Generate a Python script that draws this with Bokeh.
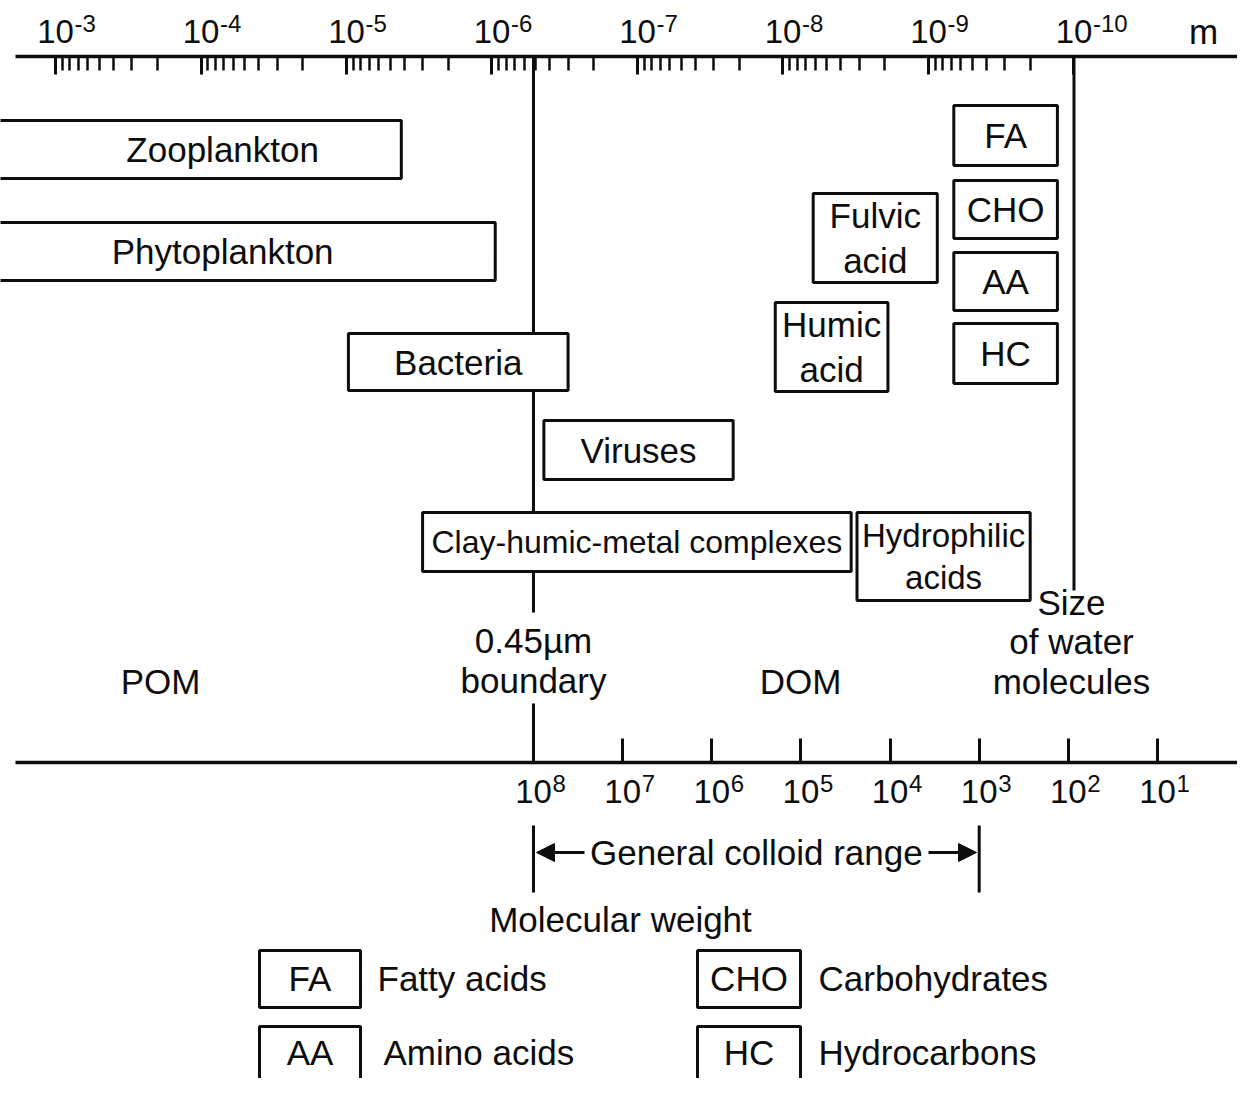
import math
from bokeh.plotting import figure
from bokeh.models import (Range1d, LogScale, LinearScale, LogAxis, FixedTicker,
                          Arrow, NormalHead)
from bokeh.core.properties import value
from bokeh.embed import file_html
from bokeh.resources import INLINE

# ---------------- data ----------------
size_ticks = [1e-3, 1e-4, 1e-5, 1e-6, 1e-7, 1e-8, 1e-9, 1e-10]          # metres
mw_ticks = [1e8, 1e7, 1e6, 1e5, 1e4, 1e3, 1e2, 1e1]                    # molecular weight

box_labels = ["Zooplankton", "Phytoplankton", "Bacteria", "Viruses",
              "Clay-humic-metal complexes", "Hydrophilic\nacids",
              "Fulvic\nacid", "Humic\nacid", "FA", "CHO", "AA", "HC"]
box_size_max = [2e-2, 2e-2, 9.7e-6, 4.4e-7, 3.0e-6, 3.1e-9, 6.2e-9, 1.13e-8,
                6.7e-10, 6.7e-10, 6.7e-10, 6.7e-10]                        # left edge (m)
box_size_min = [4.2e-6, 9.5e-7, 3e-7, 2.2e-8, 3.4e-9, 2e-10, 8.7e-10, 1.9e-9,
                1.3e-10, 1.3e-10, 1.3e-10, 1.3e-10]                        # right edge (m)
box_label_size = [7.1e-5, 7.1e-5, None, None, None, None, None, None, None, None, None, None]

boundary_mw = 1e8          # 0.45 um boundary
water_size = 1e-10         # size of water molecules (m)
colloid_mw = (1e8, 1e3)    # general colloid range

legend_abbr = ["FA", "AA", "CHO", "HC"]
legend_text = ["Fatty acids", "Amino acids", "Carbohydrates", "Hydrocarbons"]

# ---------------- layout ----------------
FONT = value("Liberation Sans")
FS = "35px"
INK = "#0d0d0d"

box_top = [120, 222, 333, 420, 512, 512, 193, 302, 105, 180, 252, 323]
box_bot = [178, 280, 390, 479, 571, 600, 282, 391, 165, 238, 310, 383]
box_fs = ["35px", "35px", "35px", "35px", "32px", "33px", "35px", "35px",
          "35px", "35px", "35px", "35px"]

AX_TOP_Y = 56
AX_MW_Y = 762

p = figure(width=1237, height=1078, x_axis_type="log", x_axis_location="above",
           y_axis_type=None,
           x_range=Range1d(2.388e-3, 7.52e-12), y_range=Range1d(1078, 0),
           output_backend="svg", toolbar_location=None, min_border=0)
p.outline_line_color = None
p.background_fill_color = "white"
p.border_fill_color = "white"
p.xgrid.visible = False

p.extra_x_ranges = {"mw": Range1d(9.53e13, 1.266), "px": Range1d(0, 1237)}
p.extra_x_scales = {"mw": LogScale(), "px": LinearScale()}

# top size axis (labels drawn separately as 10 + superscript)
minor = [k * 10.0 ** n for n in range(-10, -3) for k in range(2, 10)]
ax = p.xaxis[0]
ax.fixed_location = AX_TOP_Y
ax.bounds = (7.5e-12, 1.88e-3)
ax.ticker = FixedTicker(ticks=size_ticks, minor_ticks=minor)
ax.axis_line_width = 3.5
ax.axis_line_color = INK
ax.major_tick_in = 18
ax.major_tick_out = 0
ax.minor_tick_in = 14
ax.minor_tick_out = 0
ax.major_tick_line_width = 3
ax.minor_tick_line_width = 2.5
ax.major_tick_line_color = INK
ax.minor_tick_line_color = INK
ax.major_label_text_color = None

# bottom molecular-weight axis
mw_axis = LogAxis(x_range_name="mw", ticker=FixedTicker(ticks=mw_ticks, minor_ticks=[]),
                  fixed_location=AX_MW_Y, bounds=(1.266, 6.46e13))
mw_axis.axis_line_width = 3.5
mw_axis.axis_line_color = INK
mw_axis.major_tick_in = 24
mw_axis.major_tick_out = 0
mw_axis.major_tick_line_width = 3
mw_axis.major_tick_line_color = INK
mw_axis.major_label_text_color = None
p.add_layout(mw_axis, "below")

# tick labels: "10" centred on the tick, exponent as superscript
def exps(ticks):
    return [str(int(round(math.log10(t)))) for t in ticks]

p.text(x=size_ticks, y=[31] * len(size_ticks), text=["10"] * len(size_ticks),
       text_font=FONT, text_font_size="33px", text_align="center",
       text_baseline="middle", text_color=INK)
p.text(x=size_ticks, y=[23] * len(size_ticks), text=exps(size_ticks), x_offset=19,
       text_font=FONT, text_font_size="24px", text_align="left",
       text_baseline="middle", text_color=INK)
p.text(x=mw_ticks, y=[791] * len(mw_ticks), text=["10"] * len(mw_ticks), x_range_name="mw",
       text_font=FONT, text_font_size="33px", text_align="center",
       text_baseline="middle", text_color=INK)
p.text(x=mw_ticks, y=[783] * len(mw_ticks), text=exps(mw_ticks), x_range_name="mw",
       x_offset=19, text_font=FONT, text_font_size="24px", text_align="left",
       text_baseline="middle", text_color=INK)

# vertical reference lines (drawn first, boxes cover them)
p.segment(x0=[boundary_mw, boundary_mw], x1=[boundary_mw, boundary_mw],
          y0=[AX_TOP_Y, 703], y1=[612, AX_MW_Y], x_range_name="mw",
          line_color=INK, line_width=3)
p.segment(x0=[water_size], x1=[water_size], y0=[AX_TOP_Y], y1=[590],
          line_color=INK, line_width=3)

# boxes
p.quad(left=box_size_max, right=box_size_min, top=box_top, bottom=box_bot,
       fill_color="white", line_color=INK, line_width=3)

lx = [lab if lab is not None else math.sqrt(a * b)
      for lab, a, b in zip(box_label_size, box_size_max, box_size_min)]
ly = [(t + b) / 2 for t, b in zip(box_top, box_bot)]
p.text(x=lx, y=ly, text=box_labels, text_font=FONT, text_font_size=box_fs,
       text_align="center", text_baseline="middle", text_color=INK,
       text_line_height=1.15)

# free labels
p.text(x=[160, 533, 533, 800, 1071, 1071, 1071, 1203],
       y=[681, 640, 680, 681, 602, 641, 681, 31],
       text=["POM", "0.45µm", "boundary", "DOM", "Size", "of water", "molecules", "m"],
       x_range_name="px", text_font=FONT, text_font_size=FS, text_align="center",
       text_baseline="middle", text_color=INK)

# general colloid range
p.segment(x0=list(colloid_mw), x1=list(colloid_mw), y0=[825, 825], y1=[892, 892],
          x_range_name="mw", line_color=INK, line_width=3)
p.text(x=[math.sqrt(colloid_mw[0] * colloid_mw[1])], y=[852], text=["General colloid range"],
       x_range_name="mw", text_font=FONT, text_font_size=FS, text_align="center",
       text_baseline="middle", text_color=INK)
p.add_layout(Arrow(end=NormalHead(size=18, fill_color=INK, line_color=INK),
                   x_start=584, y_start=852, x_end=536, y_end=852, x_range_name="px",
                   line_color=INK, line_width=3))
p.add_layout(Arrow(end=NormalHead(size=18, fill_color=INK, line_color=INK),
                   x_start=928, y_start=852, x_end=976, y_end=852, x_range_name="px",
                   line_color=INK, line_width=3))
p.text(x=[620], y=[919], text=["Molecular weight"], x_range_name="px",
       text_font=FONT, text_font_size=FS, text_align="center", text_baseline="middle",
       text_color=INK)

# key
kx0 = [259, 259, 697, 697]
kx1 = [360, 360, 800, 800]
ky0 = [950, 1026, 950, 1026]
ky1 = [1007, 1090, 1007, 1090]
key_y = [978, 1052, 978, 1052]
p.quad(left=kx0, right=kx1, top=ky0, bottom=ky1, x_range_name="px",
       fill_color="white", line_color=INK, line_width=3)
p.text(x=[(a + b) / 2 for a, b in zip(kx0, kx1)], y=key_y,
       text=legend_abbr, x_range_name="px", text_font=FONT, text_font_size=FS,
       text_align="center", text_baseline="middle", text_color=INK)
p.text(x=[377, 383, 818, 818], y=key_y, text=legend_text,
       x_range_name="px", text_font=FONT, text_font_size=FS, text_align="left",
       text_baseline="middle", text_color=INK)

open("out.html", "w").write(file_html(p, INLINE))
